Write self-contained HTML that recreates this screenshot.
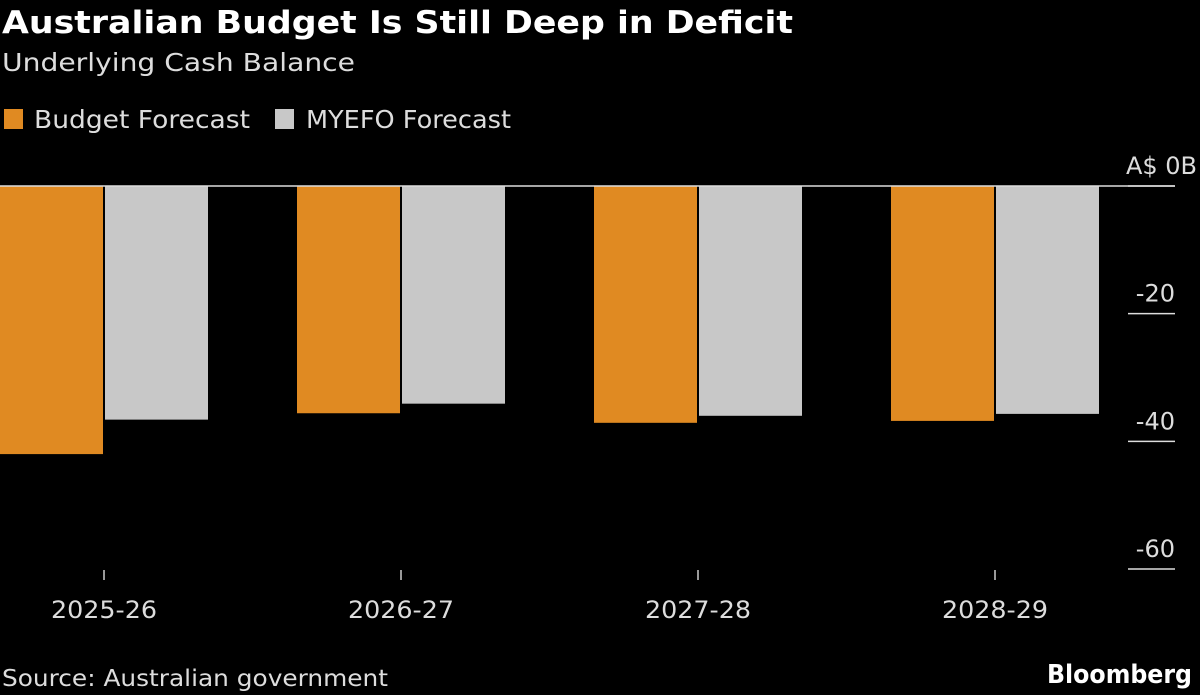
<!DOCTYPE html>
<html><head><meta charset="utf-8"><style>
html,body{margin:0;padding:0;background:#000;width:1200px;height:695px;overflow:hidden;font-family:"DejaVu Sans","Liberation Sans",sans-serif;color:#ddd}
svg text{font-family:"DejaVu Sans","Liberation Sans",sans-serif}
</style></head><body>
<svg width="1200" height="695" viewBox="0 0 1200 695" xmlns="http://www.w3.org/2000/svg">
<text x="2" y="33" font-size="31" font-weight="bold" fill="#fff" textLength="791" lengthAdjust="spacingAndGlyphs">Australian Budget Is Still Deep in Deficit</text>
<text x="2" y="71" font-size="25" fill="#ddd" textLength="353" lengthAdjust="spacingAndGlyphs">Underlying Cash Balance</text>
<g>
<rect x="4" y="109" width="19" height="20" fill="#e08a22"/>
<text x="34" y="128" font-size="25" fill="#ddd" textLength="216" lengthAdjust="spacingAndGlyphs">Budget Forecast</text>
<rect x="275" y="109" width="19" height="20" fill="#c8c8c8"/>
<text x="306" y="128" font-size="25" fill="#ddd" textLength="205" lengthAdjust="spacingAndGlyphs">MYEFO Forecast</text>
</g>
<g id="plot"></g>
<text x="2" y="686" font-size="23" fill="#ddd" textLength="386" lengthAdjust="spacingAndGlyphs">Source: Australian government</text>
<text x="1047" y="683" font-size="26" font-weight="bold" fill="#fff" textLength="145" lengthAdjust="spacingAndGlyphs">Bloomberg</text>
</svg>
<script>
const categories=["2025-26","2026-27","2027-28","2028-29"];
const budget=[-42.0,-35.6,-37.1,-36.8];
const myefo=[-36.6,-34.1,-36.0,-35.7];
const ticks=[0,-20,-40,-60];
const tickLabels=["A$ 0B","-20","-40","-60"];
const NS="http://www.w3.org/2000/svg";
const g=document.getElementById('plot');
const y=v=>186+(0-v)*(383/60);
const xc=i=>104+i*297;
function el(t,a){const e=document.createElementNS(NS,t);for(const k in a)e.setAttribute(k,a[k]);g.appendChild(e);return e;}
categories.forEach((c,i)=>{
 const b=el('rect',{x:xc(i)-104,y:y(0),width:103,height:y(budget[i])-y(0),fill:'#e08a22'});
 
 
 const m=el('rect',{x:xc(i)+1,y:y(0),width:103,height:y(myefo[i])-y(0),fill:'#c8c8c8'});
 
 
 const tk=el('line',{x1:xc(i),x2:xc(i),y1:570,y2:580,stroke:'#ccc','stroke-width':1.5});
 
 
 const t=el('text',{x:xc(i)-53,y:618,'font-size':24,fill:'#ddd',textLength:106,lengthAdjust:'spacingAndGlyphs'});
 t.textContent=c;
 
 
});
const zl=el('line',{x1:0,x2:1175,y1:y(0),y2:y(0),stroke:'#ddd','stroke-width':1.5});


ticks.forEach((v,i)=>{
 const l=el('line',{x1:1128,x2:1175,y1:y(v),y2:y(v),stroke:'#ddd','stroke-width':1.5});
 
 
 const isTop=i===0;
 const t=el('text',{x:isTop?1197:1175,y:y(v)-12,'font-size':24,fill:'#ddd','text-anchor':'end'});
 t.textContent=tickLabels[i];
 
 
});
</script>
</body></html>
